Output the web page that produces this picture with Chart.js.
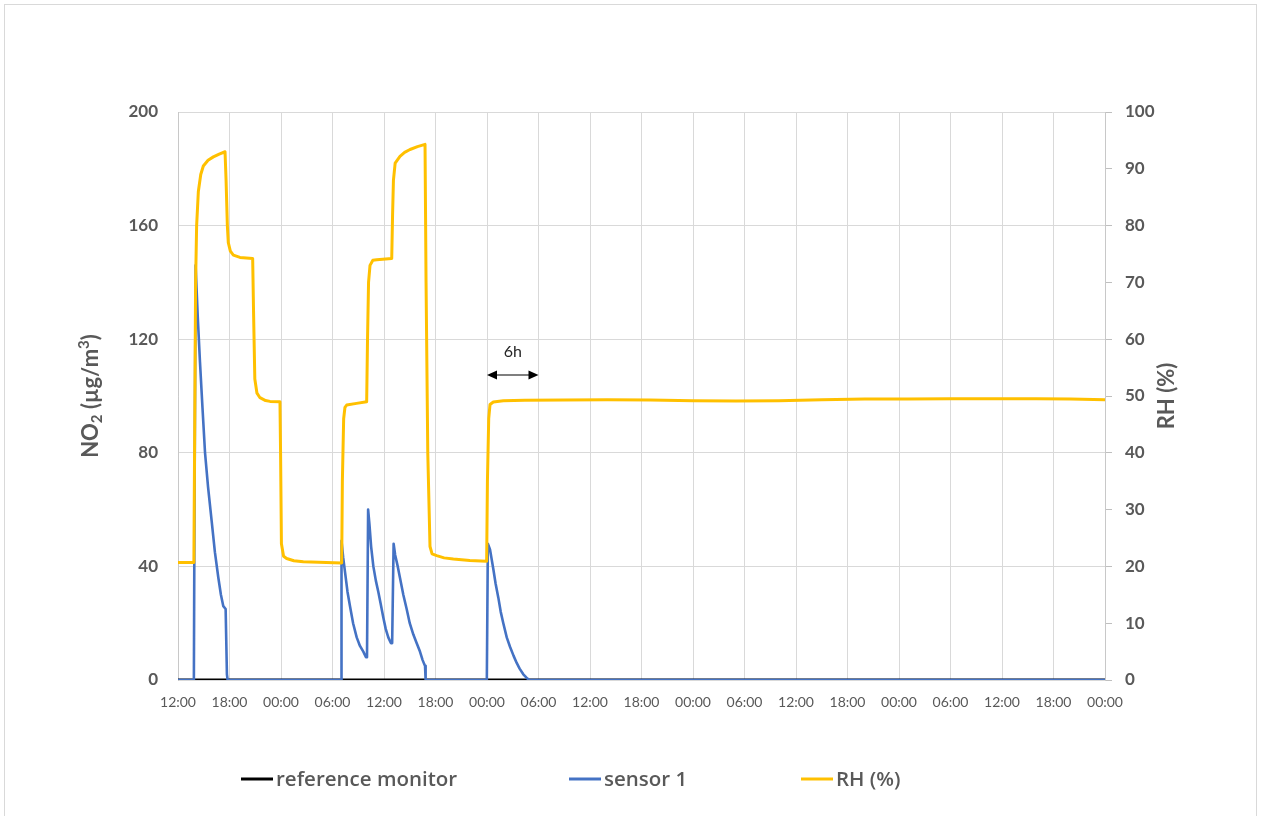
<!DOCTYPE html>
<html>
<head>
<meta charset="utf-8">
<script src="https://cdn.jsdelivr.net/npm/chart.js@4/dist/chart.umd.min.js"></script>
<style>
  html, body { margin: 0; padding: 0; background: #ffffff; }
  #wrap { width: 1261px; height: 816px; }
</style>
</head>
<body>
<div id="wrap"><canvas id="c" width="1261" height="816"></canvas></div>
<script>
// Elapsed time (hours from the 12:00 start) and readings for each series.
const timeLabels = ['12:00','18:00','00:00','06:00','12:00','18:00','00:00','06:00','12:00','18:00',
                    '00:00','06:00','12:00','18:00','00:00','06:00','12:00','18:00','00:00'];

const refHours  = [0, 108];
const refValues = [0, 0];

const sensorHours = [0, 1.85, 1.9, 2.05, 2.3, 2.56, 2.85, 3.15, 3.5, 3.92, 4.3, 4.7, 5.0, 5.28, 5.55, 5.7, 5.78,
  19.0, 19.05, 19.25, 19.46, 19.75, 20.04, 20.4, 20.82, 21.2, 21.59, 21.9, 22.02, 22.15, 22.3, 22.5, 22.76,
  23.05, 23.34, 23.6, 23.92, 24.2, 24.5, 24.8, 24.95, 25.12, 25.3, 25.6, 25.86, 26.25, 26.64, 27.0, 27.42,
  27.8, 28.19, 28.5, 28.7, 28.78, 28.85,
  35.98, 36.1, 36.35, 36.74, 37.0, 37.32, 37.6, 37.9, 38.3, 38.68, 39.1, 39.46, 39.8, 40.23, 40.6, 40.93, 108];
const sensorValues = [0, 0, 42, 146, 128, 112, 96, 80, 68, 56, 45, 36, 30, 26, 25, 2, 0,
  0, 49, 43, 38, 31, 26, 20, 15, 12, 10, 8, 8, 60, 55, 47, 40,
  35, 31, 27, 22, 18, 15, 13, 13, 48, 44, 40, 36, 30, 25, 20, 16,
  13, 10, 7, 5.5, 5, 0,
  0, 48, 46, 39, 34, 29, 24, 20, 15, 11.7, 8.5, 6, 4, 2, 0.8, 0, 0];

const rhHours = [0, 1.85, 1.95, 2.05, 2.17, 2.37, 2.65, 2.95, 3.5, 4.12, 4.8, 5.48, 5.6, 5.75, 5.86, 6.1, 6.45,
  7.22, 8.7, 8.8, 8.95, 9.2, 9.55, 10.2, 10.72, 11.88, 11.95, 12.05, 12.3, 12.66, 13.5, 14.6, 19.07,
  19.15, 19.3, 19.45, 19.65, 20.8, 21.98, 22.08, 22.2, 22.37, 22.7, 23.15, 24.9, 25.0, 25.1, 25.3, 25.86,
  26.4, 27.03, 27.9, 28.78, 28.9, 29.1, 29.36, 29.6, 30.14, 31, 32.08, 34, 35.96, 36.05, 36.2, 36.35,
  36.74, 37.9, 40.4, 45, 50, 55, 60, 65, 70, 75, 80, 85, 90, 95, 100, 104, 108];
const rhValues = [20.7, 20.7, 45, 70, 80, 86, 89, 90.5, 91.5, 92.1, 92.6, 93, 88, 80, 77, 75.5, 74.8,
  74.4, 74.2, 65, 53, 50.5, 49.7, 49.2, 49.05, 49, 40, 24, 21.8, 21.4, 21, 20.8, 20.6,
  35, 46, 48, 48.4, 48.7, 49, 60, 70, 73, 73.9, 74, 74.2, 82, 88, 91, 92.2,
  92.9, 93.4, 93.9, 94.3, 70, 40, 23.5, 22.2, 21.9, 21.5, 21.3, 21.05, 20.9, 35, 46, 48.5,
  48.95, 49.15, 49.25, 49.3, 49.35, 49.3, 49.15, 49.1, 49.15, 49.35, 49.45, 49.45, 49.5, 49.5, 49.5, 49.45, 49.35];

const toPoints = (xs, ys) => xs.map((x, i) => ({ x: x, y: ys[i] }));

const FONT = 'Lato, "Open Sans", "DejaVu Sans", sans-serif';
const TEXT = '#595959';

// Outer frame of the figure
const framePlugin = {
  id: 'frame',
  beforeDraw(chart) {
    const ctx = chart.ctx;
    ctx.save();
    ctx.fillStyle = '#ffffff';
    ctx.fillRect(0, 0, chart.width, chart.height);
    ctx.strokeStyle = '#d9d9d9';
    ctx.lineWidth = 1;
    ctx.strokeRect(4.5, 4.5, chart.width - 9, chart.height - 4);
    ctx.restore();
  }
};

// Vertical axis titles (bottom-to-top), with sub/superscript parts
const axisTitlePlugin = {
  id: 'axisTitles',
  afterDraw(chart, args, opts) {
    const ctx = chart.ctx;
    const area = chart.chartArea;
    const cy = (area.top + area.bottom) / 2;
    const drawRuns = (cx, runs) => {
      ctx.save();
      ctx.translate(cx, cy);
      ctx.rotate(-Math.PI / 2);
      ctx.fillStyle = TEXT;
      ctx.textBaseline = 'alphabetic';
      ctx.textAlign = 'left';
      let total = 0;
      runs.forEach(r => { ctx.font = 'bold ' + r.size + 'px ' + FONT; total += ctx.measureText(r.text).width; });
      let x = -total / 2;
      runs.forEach(r => {
        ctx.font = 'bold ' + r.size + 'px ' + FONT;
        ctx.fillText(r.text, x, opts.baseline + (r.shift || 0));
        x += ctx.measureText(r.text).width;
      });
      ctx.restore();
    };
    const big = opts.size, small = Math.round(opts.size * 0.66);
    drawRuns(opts.leftX, [
      { text: 'NO', size: big },
      { text: '2', size: small, shift: 4 },
      { text: ' (µg/m', size: big },
      { text: '3', size: small, shift: -9 },
      { text: ')', size: big }
    ]);
    drawRuns(opts.rightX, [{ text: 'RH (%)', size: big }]);
  }
};

// Double arrow marking a 6 h span, with its label
const spanPlugin = {
  id: 'span',
  afterDatasetsDraw(chart) {
    const { ctx, scales } = chart;
    const x0 = scales.x.getPixelForValue(36);
    const x1 = scales.x.getPixelForValue(42);
    const y = scales.y.getPixelForValue(107.4);
    ctx.save();
    ctx.strokeStyle = '#000000';
    ctx.fillStyle = '#000000';
    ctx.lineWidth = 1.2;
    ctx.beginPath();
    ctx.moveTo(x0 + 6, y);
    ctx.lineTo(x1 - 6, y);
    ctx.stroke();
    const head = (tip, dir) => {
      ctx.beginPath();
      ctx.moveTo(tip, y);
      ctx.lineTo(tip - dir * 10, y - 4.5);
      ctx.lineTo(tip - dir * 10, y + 4.5);
      ctx.closePath();
      ctx.fill();
    };
    head(x0, -1);
    head(x1, 1);
    ctx.fillStyle = '#262626';
    ctx.font = '16px ' + FONT;
    ctx.textAlign = 'center';
    ctx.textBaseline = 'middle';
    ctx.fillText('6h', (x0 + x1) / 2, scales.y.getPixelForValue(115.5));
    ctx.restore();
  }
};

// Legend row under the plot
const legendRowPlugin = {
  id: 'legendRow',
  afterDraw(chart, args, opts) {
    const ctx = chart.ctx;
    ctx.save();
    ctx.font = '600 20.5px "Open Sans", ' + FONT;
    ctx.textBaseline = 'middle';
    ctx.textAlign = 'left';
    chart.data.datasets.forEach((ds, i) => {
      const x = opts.starts[i];
      ctx.strokeStyle = ds.borderColor;
      ctx.lineWidth = 3;
      ctx.beginPath();
      ctx.moveTo(x, opts.y);
      ctx.lineTo(x + 32, opts.y);
      ctx.stroke();
      ctx.fillStyle = TEXT;
      ctx.fillText(ds.label, x + 35, opts.y + 1);
    });
    ctx.restore();
  }
};

new Chart(document.getElementById('c'), {
  type: 'line',
  data: {
    datasets: [
      { label: 'reference monitor', data: toPoints(refHours, refValues), yAxisID: 'y',
        borderColor: '#000000', borderWidth: 3, order: 3 },
      { label: 'sensor 1', data: toPoints(sensorHours, sensorValues), yAxisID: 'y',
        borderColor: '#4472C4', borderWidth: 2.6, order: 2 },
      { label: 'RH (%)', data: toPoints(rhHours, rhValues), yAxisID: 'y1',
        borderColor: '#FFC000', borderWidth: 3, order: 1 }
    ]
  },
  options: {
    responsive: false,
    animation: false,
    elements: {
      point: { radius: 0 },
      line: { tension: 0, borderJoinStyle: 'round', borderCapStyle: 'round' }
    },
    layout: { padding: { top: 112, left: 0, right: 0, bottom: 96 } },
    plugins: {
      legend: { display: false },
      tooltip: { enabled: false },
      legendRow: { starts: [241, 569, 801], y: 779 },
      axisTitles: { leftX: 98, rightX: 1174, baseline: 0, size: 22 }
    },
    scales: {
      x: {
        type: 'linear',
        min: 0, max: 108,
        afterFit(s) { s.height = 40; },
        grid: { color: '#d9d9d9', lineWidth: 1, drawTicks: false },
        border: { color: '#d9d9d9' },
        ticks: {
          stepSize: 6, autoSkip: false, maxRotation: 0, padding: 14,
          color: TEXT, font: { family: FONT, size: 14 },
          callback: (v) => timeLabels[Math.round(v / 6)]
        }
      },
      y: {
        position: 'left',
        min: 0, max: 200,
        afterFit(s) { s.width = 178; },
        grid: { color: '#d9d9d9', lineWidth: 1, drawTicks: false },
        border: { color: '#c8c8c8' },
        ticks: { stepSize: 40, padding: 20, color: TEXT, font: { family: FONT, size: 17, weight: 'bold' } }
      },
      y1: {
        position: 'right',
        min: 0, max: 100,
        afterFit(s) { s.width = 1261 - 1105; },
        grid: { drawOnChartArea: false, color: '#bfbfbf', tickLength: 7, drawTicks: true },
        border: { color: '#c8c8c8' },
        ticks: { stepSize: 10, padding: 13, color: TEXT, font: { family: FONT, size: 17, weight: 'bold' } }
      }
    }
  },
  plugins: [framePlugin, spanPlugin, legendRowPlugin, axisTitlePlugin]
});
</script>
</body>
</html>
